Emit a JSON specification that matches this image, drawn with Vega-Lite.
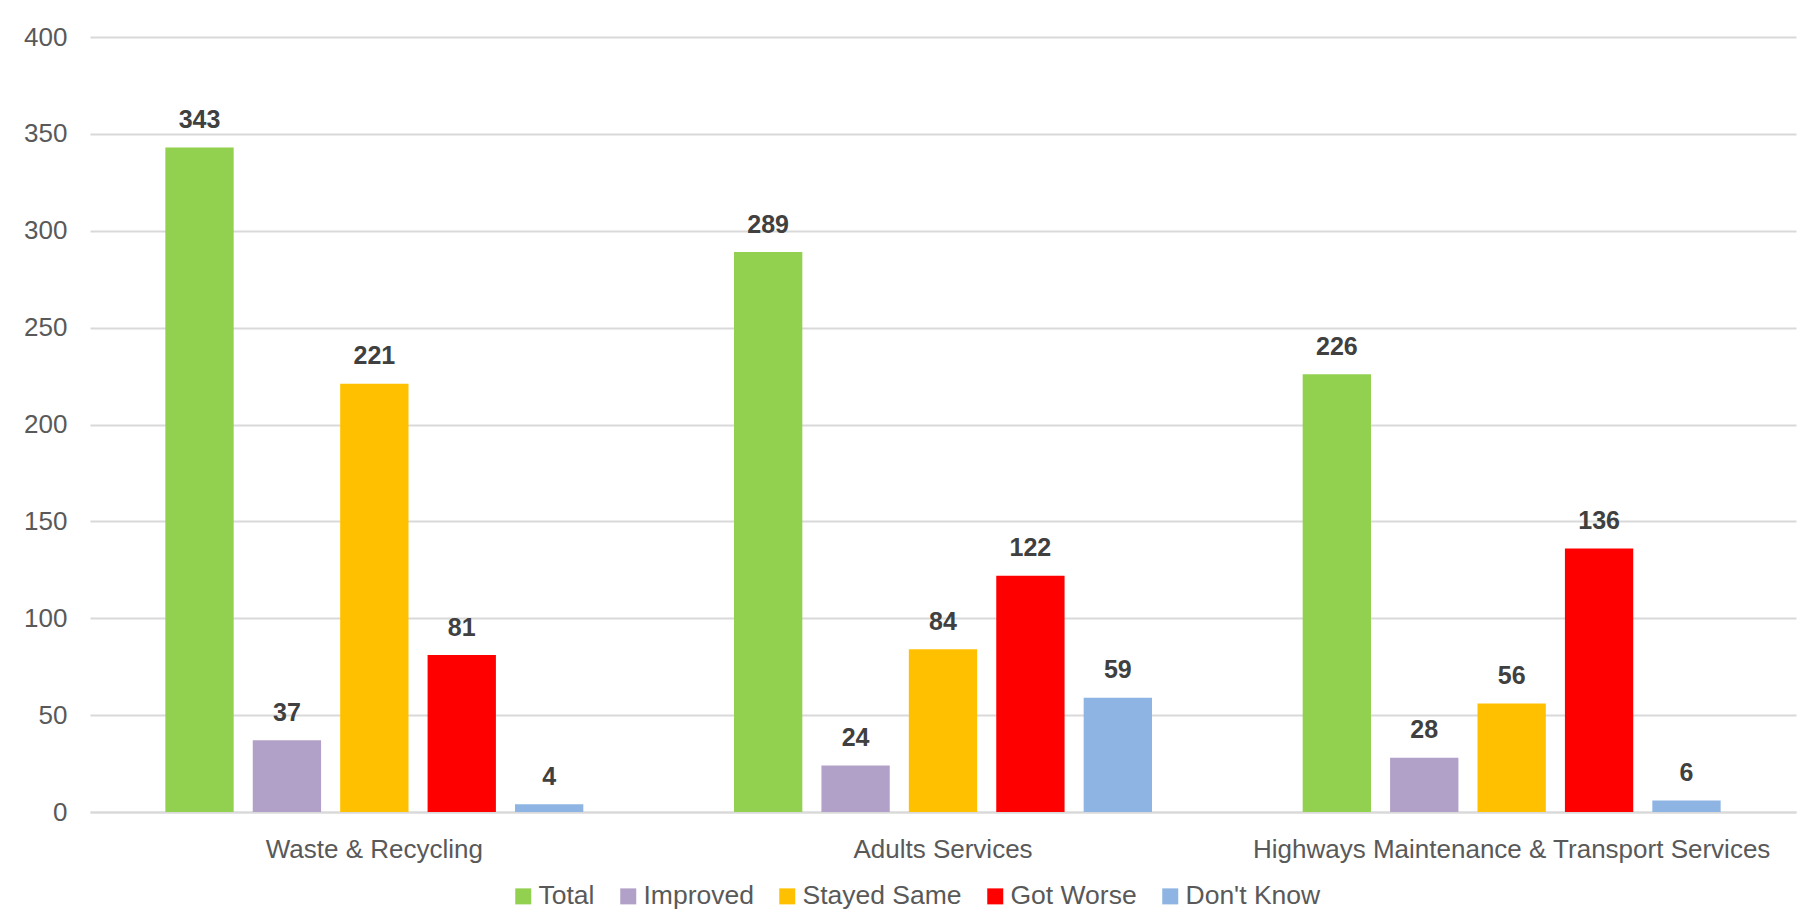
{
  "$schema": "https://vega.github.io/schema/vega-lite/v6.json",
  "width": 1706,
  "height": 775,
  "autosize": {"type": "none"},
  "padding": {"left": 90, "top": 37, "right": 18, "bottom": 109},
  "background": "#ffffff",
  "config": {
    "font": "Liberation Sans",
    "view": {"stroke": null},
    "axis": {
      "labelFont": "Liberation Sans",
      "labelColor": "#595959",
      "labelFontSize": 26,
      "gridColor": "#d9d9d9",
      "gridWidth": 2,
      "domainColor": "#d9d9d9",
      "domainWidth": 2,
      "ticks": false,
      "tickSize": 0,
      "title": null
    },
    "legend": {
      "labelFont": "Liberation Sans",
      "labelColor": "#595959",
      "labelFontSize": 26.5,
      "padding": 0
    }
  },
  "data": {
    "values": [
      {"service": "Waste & Recycling", "response": "Total", "count": 343},
      {"service": "Waste & Recycling", "response": "Improved", "count": 37},
      {"service": "Waste & Recycling", "response": "Stayed Same", "count": 221},
      {"service": "Waste & Recycling", "response": "Got Worse", "count": 81},
      {"service": "Waste & Recycling", "response": "Don't Know", "count": 4},
      {"service": "Adults Services", "response": "Total", "count": 289},
      {"service": "Adults Services", "response": "Improved", "count": 24},
      {"service": "Adults Services", "response": "Stayed Same", "count": 84},
      {"service": "Adults Services", "response": "Got Worse", "count": 122},
      {"service": "Adults Services", "response": "Don't Know", "count": 59},
      {"service": "Highways Maintenance & Transport Services", "response": "Total", "count": 226},
      {"service": "Highways Maintenance & Transport Services", "response": "Improved", "count": 28},
      {"service": "Highways Maintenance & Transport Services", "response": "Stayed Same", "count": 56},
      {"service": "Highways Maintenance & Transport Services", "response": "Got Worse", "count": 136},
      {"service": "Highways Maintenance & Transport Services", "response": "Don't Know", "count": 6}
    ]
  },
  "encoding": {
    "x": {
      "field": "service",
      "type": "nominal",
      "sort": ["Waste & Recycling", "Adults Services", "Highways Maintenance & Transport Services"],
      "scale": {"paddingInner": 0.265, "paddingOuter": 0.1325},
      "axis": {"labelAngle": 0, "labelPadding": 24, "labelLimit": 0, "grid": false, "domain": true}
    },
    "xOffset": {
      "field": "response",
      "type": "nominal",
      "sort": ["Total", "Improved", "Stayed Same", "Got Worse", "Don't Know"],
      "scale": {"paddingInner": 0.2185, "paddingOuter": 0}
    },
    "y": {
      "field": "count",
      "type": "quantitative",
      "scale": {"domain": [0, 400], "nice": false},
      "axis": {"values": [0, 50, 100, 150, 200, 250, 300, 350, 400], "domain": false, "grid": true, "labelPadding": 23}
    }
  },
  "layer": [
    {
      "mark": {"type": "bar"},
      "encoding": {
        "color": {
          "field": "response",
          "type": "nominal",
          "sort": ["Total", "Improved", "Stayed Same", "Got Worse", "Don't Know"],
          "scale": {
            "domain": ["Total", "Improved", "Stayed Same", "Got Worse", "Don't Know"],
            "range": ["#92d050", "#b1a0c7", "#ffc000", "#ff0000", "#8db4e2"]
          },
          "legend": {
            "title": null,
            "orient": "none",
            "direction": "horizontal",
            "legendX": 420,
            "legendY": 846,
            "symbolType": "square",
            "symbolSize": 256,
            "symbolStrokeWidth": 0,
            "labelOffset": 2,
            "columnPadding": 20
          }
        }
      }
    },
    {
      "mark": {
        "type": "text",
        "baseline": "alphabetic",
        "dy": -19.5,
        "fontSize": 25,
        "fontWeight": "bold",
        "color": "#404040",
        "font": "Liberation Sans"
      },
      "encoding": {
        "text": {"field": "count", "type": "quantitative"}
      }
    }
  ]
}
